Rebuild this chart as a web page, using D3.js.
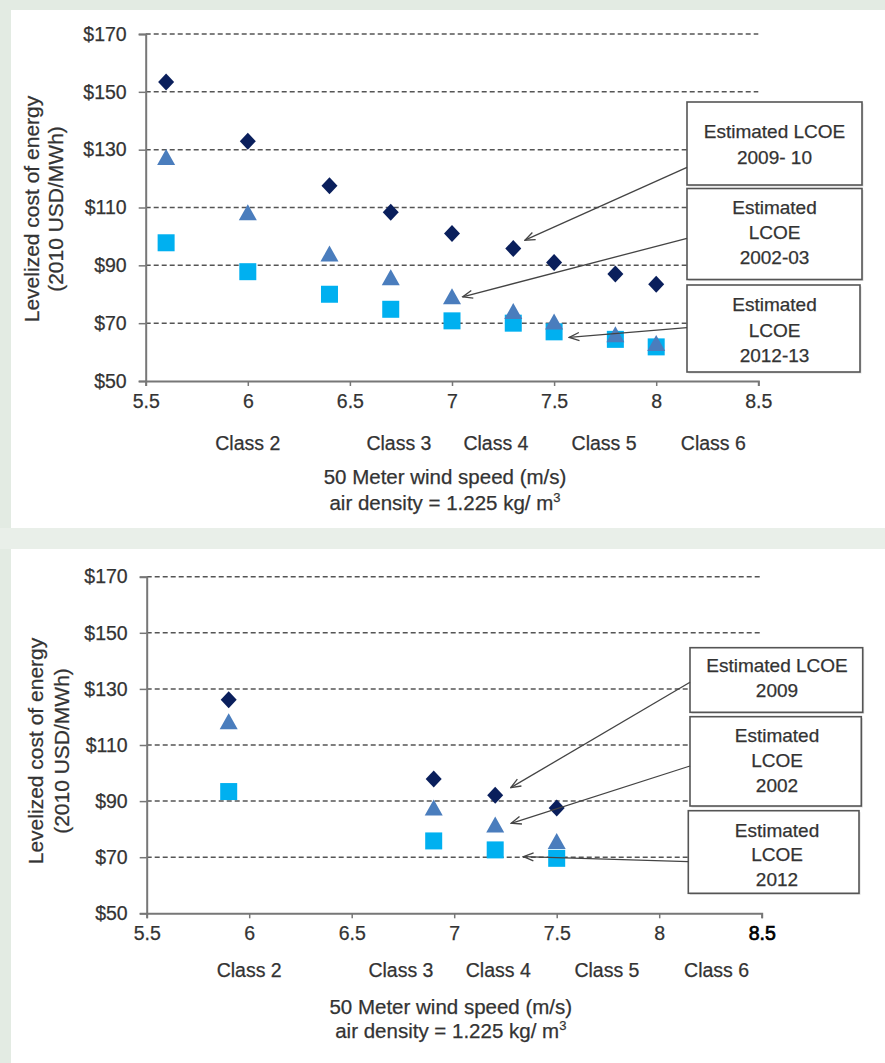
<!DOCTYPE html>
<html><head><meta charset="utf-8">
<script src="https://cdn.jsdelivr.net/npm/d3@7"></script>
<style>
html,body{margin:0;padding:0;background:#e3ebe3;}
svg{display:block;font-family:"Liberation Sans",Arial,Helvetica,sans-serif;}
</style></head><body>
<svg id="c" width="885" height="1063"></svg>
<script>
// ---------- DATA ----------
const yTicks = [50, 70, 90, 110, 130, 150, 170];
const xTicks = [5.5, 6, 6.5, 7, 7.5, 8, 8.5];
const classLabels = ["Class 2", "Class 3", "Class 4", "Class 5", "Class 6"];
const classPos = [6.0, 6.74, 7.215, 7.745, 8.28];

const topSpeed = [5.6, 6.0, 6.4, 6.7, 7.0, 7.3, 7.5, 7.8, 8.0];
const top2009 = [153.4, 132.9, 117.5, 108.4, 101.0, 95.8, 91.0, 87.0, 83.5];
const top2002 = [127.3, 108.2, 93.9, 85.7, 79.1, 74.0, 70.4, 66.0, 63.0];
const top2012 = [97.8, 87.8, 80.0, 74.8, 70.8, 70.0, 67.0, 64.4, 61.8];
const topNotes = [["Estimated LCOE", "2009- 10"], ["Estimated", "LCOE", "2002-03"], ["Estimated", "LCOE", "2012-13"]];
const topArrowTips = [[7.357, 98.7], [7.052, 79.1], [7.574, 65.1]];

const botSpeed = [5.9, 6.9, 7.2, 7.5];
const bot2009 = [126.1, 97.9, 92.1, 87.5];
const bot2002 = [118.3, 87.5, 81.5, 75.6];
const bot2012 = [93.4, 75.8, 72.6, 69.6];
const botNotes = [["Estimated LCOE", "2009"], ["Estimated", "LCOE", "2002"], ["Estimated", "LCOE", "2012"]];
const botArrowTips = [[7.276, 94.8], [7.278, 82.1], [7.338, 70.2]];

const yTitle = ["Levelized cost of energy", "(2010 USD/MWh)"];
const xTitle1 = "50 Meter wind speed (m/s)";

// ---------- STYLE ----------
const C2009 = "#0a1f5c", C2002 = "#4a7dbd", C2012 = "#00b0f0";
const TXT = "#333";
const FF = "Liberation Sans, Arial, sans-serif";

const svg = d3.select("#c");
svg.append("defs").append("marker")
  .attr("id", "ah").attr("viewBox", "0 0 12 10").attr("refX", 11).attr("refY", 5)
  .attr("markerWidth", 12).attr("markerHeight", 10).attr("markerUnits", "userSpaceOnUse")
  .attr("orient", "auto")
  .append("path").attr("d", "M1,1 L11,5 L1,9").attr("fill", "none")
  .attr("stroke", "#444").attr("stroke-width", 1.3);

// panels
svg.append("rect").attr("x", 0).attr("y", 0).attr("width", 885).attr("height", 1063).attr("fill", "#e3ebe3");
svg.append("rect").attr("x", 0).attr("y", 528).attr("width", 885).attr("height", 21).attr("fill", "#e9efe9");
svg.append("rect").attr("x", 11).attr("y", 10).attr("width", 874).attr("height", 518).attr("fill", "#fff");
svg.append("rect").attr("x", 11).attr("y", 549).attr("width", 874).attr("height", 514).attr("fill", "#fff");

function styleText(sel, size) {
  sel.attr("font-size", size).attr("fill", TXT).attr("font-family", FF)
    .attr("stroke", TXT).attr("stroke-width", 0.25);
}

function chart(cfg) {
  const g = svg.append("g");
  const x = d3.scaleLinear().domain([5.5, 8.5]).range(cfg.xr);
  const y = d3.scaleLinear().domain([50, 170]).range(cfg.yr);
  const y0 = y(50);

  // gridlines
  g.selectAll(".grid").data(yTicks.filter(d => d > 50)).join("line")
    .attr("x1", x(5.5)).attr("x2", x(8.5)).attr("y1", d => y(d)).attr("y2", d => y(d))
    .attr("stroke", "#555").attr("stroke-width", 1.5).attr("stroke-dasharray", "5,3");

  // y axis
  const ya = g.append("g").attr("transform", `translate(${x(5.5)},0)`)
    .call(d3.axisLeft(y).tickValues(yTicks).tickSize(7).tickPadding(12).tickFormat(d => "$" + d));
  ya.select(".domain").attr("stroke", "#777").attr("stroke-width", 2);
  ya.selectAll(".tick line").attr("stroke", "#777").attr("stroke-width", 1.5);
  styleText(ya.selectAll(".tick text"), 19.5);

  // x axis
  const xa = g.append("g").attr("transform", `translate(0,${y0})`)
    .call(d3.axisBottom(x).tickValues(xTicks).tickSize(5).tickPadding(12).tickFormat(d3.format("")));
  xa.select(".domain").attr("stroke", "#777").attr("stroke-width", 2);
  xa.selectAll(".tick line").attr("stroke", "#777").attr("stroke-width", 1.5);
  styleText(xa.selectAll(".tick text").attr("dy", "0.5em"), 19.5);
  if (cfg.boldLast) {
    xa.selectAll(".tick text").filter(d => d === 8.5).attr("fill", "#000").attr("stroke", "#000").attr("stroke-width", 0.7);
  }

  // class labels
  styleText(g.selectAll(".cls").data(classLabels).join("text")
    .attr("x", (d, i) => x(classPos[i])).attr("y", cfg.classY)
    .attr("text-anchor", "middle").attr("dominant-baseline", "central").text(d => d), 19.5);

  // x title
  styleText(g.append("text").attr("x", cfg.xtX).attr("y", cfg.xtY[0]).attr("text-anchor", "middle")
    .attr("dominant-baseline", "central").text(xTitle1), 20.5);
  const xt2 = g.append("text").attr("x", cfg.xtX).attr("y", cfg.xtY[1]).attr("text-anchor", "middle")
    .attr("dominant-baseline", "central");
  styleText(xt2, 20.5);
  xt2.append("tspan").text("air density = 1.225 kg/ m");
  xt2.append("tspan").attr("font-size", 13).attr("dy", -5).text("3");

  // y title
  yTitle.forEach((t, i) => {
    styleText(g.append("text").attr("transform", `translate(${cfg.ytX[i]},${cfg.ytY}) rotate(-90)`)
      .attr("text-anchor", "middle").attr("dominant-baseline", "central").text(t), 21);
  });

  // markers
  const pts = s => cfg.speed.map((v, i) => ({x: v, y: s[i]}));
  g.selectAll(".sq").data(pts(cfg.s2012)).join("rect")
    .attr("x", d => x(d.x) - 8.5).attr("y", d => y(d.y) - 8.5).attr("width", 17).attr("height", 17)
    .attr("fill", C2012);
  g.selectAll(".tri").data(pts(cfg.s2002)).join("path")
    .attr("d", d => { const cx = x(d.x), cy = y(d.y); return `M${cx},${cy - 8.5}L${cx + 9},${cy + 7.5}L${cx - 9},${cy + 7.5}Z`; })
    .attr("fill", C2002);
  g.selectAll(".dia").data(pts(cfg.s2009)).join("path")
    .attr("d", d => { const cx = x(d.x), cy = y(d.y); return `M${cx},${cy - 8.5}L${cx + 8},${cy}L${cx},${cy + 8.5}L${cx - 8},${cy}Z`; })
    .attr("fill", C2009);

  // annotation boxes
  cfg.boxes.forEach((b, i) => {
    g.append("rect").attr("x", b[0] + 1.5).attr("y", b[1] + 1.5).attr("width", b[2] - b[0]).attr("height", b[3] - b[1])
      .attr("fill", "#bbb").attr("opacity", 0.5);
    g.append("rect").attr("x", b[0]).attr("y", b[1]).attr("width", b[2] - b[0]).attr("height", b[3] - b[1])
      .attr("fill", "#fff").attr("stroke", "#555").attr("stroke-width", 1.6);
    const lines = cfg.notes[i];
    const cy = cfg.textY[i];
    lines.forEach((t, j) => {
      styleText(g.append("text").attr("x", cfg.textX).attr("y", cy[j]).attr("text-anchor", "middle")
        .attr("dominant-baseline", "central").text(t), 19);
    });
    const tip = cfg.tips[i];
    g.append("line").attr("x1", cfg.arrowStart[i][0]).attr("y1", cfg.arrowStart[i][1])
      .attr("x2", x(tip[0])).attr("y2", y(tip[1]))
      .attr("stroke", "#444").attr("stroke-width", 1.3).attr("marker-end", "url(#ah)");
  });
}

chart({
  xr: [145.7, 758.3], yr: [381, 34],
  speed: topSpeed, s2009: top2009, s2002: top2002, s2012: top2012,
  classY: 443, xtX: 445, xtY: [476.7, 501.7], ytX: [31.7, 55.8], ytY: 209,
  boxes: [[687, 102, 862, 185], [687, 188.5, 862, 279.5], [687, 285, 860, 372]],
  notes: topNotes, textX: 774.5,
  textY: [[131.7, 157.3], [207.3, 232.3, 257.7], [304, 330, 355]],
  tips: topArrowTips,
  arrowStart: [[687, 167.3], [687, 238.3], [687, 327.7]],
  boldLast: false
});

chart({
  xr: [146.7, 761.7], yr: [913.3, 576.7],
  speed: botSpeed, s2009: bot2009, s2002: bot2002, s2012: bot2012,
  classY: 970, xtX: 450.8, xtY: [1006.7, 1030], ytX: [35.5, 61.7], ytY: 751,
  boxes: [[690, 647.7, 862.7, 712.3], [690, 716.7, 861.3, 806], [688.3, 810.7, 859, 893.3]],
  notes: botNotes, textX: 777,
  textY: [[665.7, 690], [735.7, 760, 785], [830, 854.3, 879]],
  tips: botArrowTips,
  arrowStart: [[690, 682.3], [690, 766], [688.3, 861.7]],
  boldLast: true
});
</script>
</body></html>
